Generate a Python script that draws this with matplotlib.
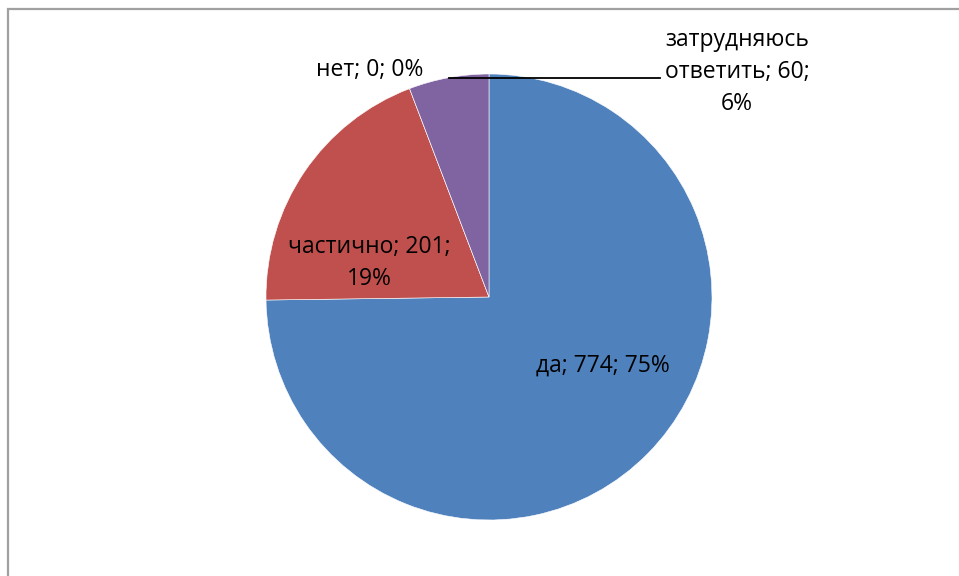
import numpy as np
import matplotlib.pyplot as plt
from matplotlib.patches import Rectangle

# data
categories = ['да', 'частично', 'нет', 'затрудняюсь ответить']
values = [774, 201, 0, 60]
colors = ['#4F81BD', '#C0504D', '#9BBB59', '#8064A2']

W, H = 959, 576
fig = plt.figure(figsize=(W / 100, H / 100), dpi=100)
ax = fig.add_axes([0, 0, 1, 1])

cx, cy, r = 489, H - 297, 223
wedges, _ = ax.pie(values, colors=colors, startangle=90, counterclock=False,
                   center=(cx, cy), radius=r,
                   wedgeprops=dict(edgecolor='white', linewidth=0.4))
ax.set_xlim(0, W)
ax.set_ylim(0, H)
ax.axis('off')

total = sum(values)
pct = [round(v / total * 100) for v in values]

font = dict(family='Open Sans', size=16.5, color='black', ha='center', va='center')

# label texts, positions in pixel layout
ax.text(603, H - 366, f'{categories[0]}; {values[0]}; {pct[0]}%', **font)
ax.text(369, H - 263, f'{categories[1]}; {values[1]};\n{pct[1]}%', linespacing=1.42, **font)
ax.text(370, H - 70, f'{categories[2]}; {values[2]}; {pct[2]}%', **font)
ax.text(737, H - 72, 'затрудняюсь\nответить; ' + f'{values[3]};\n{pct[3]}%',
        linespacing=1.42, **font)

# leader line from the purple wedge to its label
w = wedges[3]
mid = np.deg2rad((w.theta1 + w.theta2) / 2)
ex, ey = cx + r * np.cos(mid), cy + r * np.sin(mid)
ax.plot([ex, 660], [ey, ey], color='black', lw=1.3)

# chart area border
fig.patches.append(Rectangle((8 / W, -0.1), 1.2, (H - 9) / H + 0.1, transform=fig.transFigure,
                             fill=False, edgecolor='#a0a0a0', lw=1.6))

fig.savefig('out.png', dpi=100)
